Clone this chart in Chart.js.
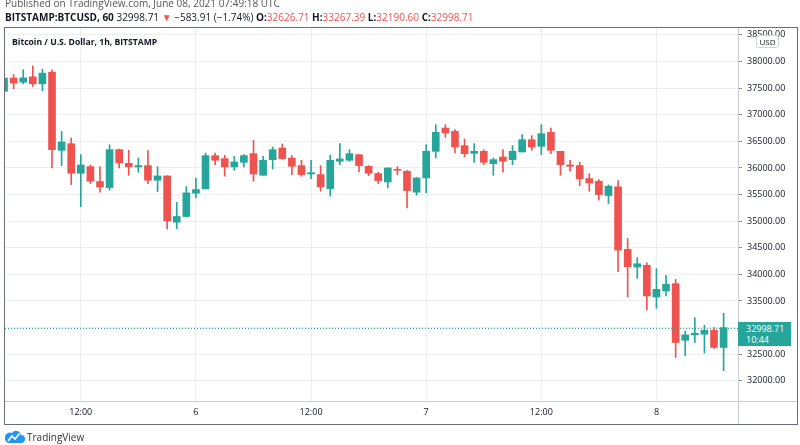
<!DOCTYPE html>
<html>
<head>
<meta charset="utf-8">
<script src="https://cdn.jsdelivr.net/npm/chart.js@4.4.0/dist/chart.umd.min.js"></script>
<style>
    html, body { margin: 0; padding: 0; background: #fff; }
    #wrap { position: relative; width: 800px; height: 445px; overflow: hidden; font-family: 'Open Sans', sans-serif; color: #131722; }
    #chart { position: absolute; left: 0; top: 0; }
    .txt { position: absolute; white-space: nowrap; }
    .dn { color: #ef5350; }
    #published { left: 5px; top: -3px; font-size: 10px; line-height: 12px; color: #555; }
    #symbol { left: 5px; top: 11px; font-size: 10px; line-height: 12px; color: #131722; }
    #symbol b { font-weight: 700; }
    #title { left: 12px; top: 36px; font-size: 8.6px; line-height: 12px; font-weight: 700; }
    #usd { left: 756px; top: 35px; width: 21px; height: 11px; border: 1px solid #d1d4dc; border-radius: 3px; background: #fff;
           font-size: 8px; line-height: 11px; text-align: center; color: #131722; }
    #lastBox { left: 738px; width: 53px; height: 24px; background: #26a69a; color: #fff; font-size: 9px; line-height: 11px;
               padding-left: 8px; box-sizing: border-box; padding-top: 1px; }
    #logo { left: 5px; top: 429px; }
    #brand { left: 27px; top: 430px; font-size: 10px; line-height: 14px; color: #333; }
</style>
</head>
<body>
<div id="wrap">
    <canvas id="chart" width="800" height="445"></canvas>
    <div class="txt" id="published">Published on TradingView.com, June 08, 2021 07:49:18 UTC</div>
    <div class="txt" id="symbol"><b>BITSTAMP:BTCUSD, 60</b> 32998.71 <span class="dn">▼</span> −583.91 (−1.74%) <b>O:</b><span class="dn">32626.71</span> <b>H:</b><span class="dn">33267.39</span> <b>L:</b><span class="dn">32190.60</span> <b>C:</b><span class="dn">32998.71</span></div>
    <div class="txt" id="title">Bitcoin / U.S. Dollar, 1h, BITSTAMP</div>
    <div class="txt" id="usd">USD</div>
    <div class="txt" id="lastBox">32998.71<br>10:44</div>
    <svg class="txt" id="logo" width="20" height="15" viewBox="0 0 20 15">
        <path d="M3 14 H16 A4 4 0 0 0 16 6 A5 5 0 0 0 7 4 A4 4 0 0 0 3 14 Z" fill="#2196f3"/>
        <polyline points="3,12 7,7 10,10 15,4" fill="none" stroke="#fff" stroke-width="1.6"/>
    </svg>
    <div class="txt" id="brand">TradingView</div>
</div>

<script>
    // --- 1. Candle data (1h candles, BITSTAMP BTC/USD), index = hour from first candle ---
    const opens = [
        37440, 37690, 37612, 37712, 37581, 37800, 36331, 36456, 35900, 36025,
        35744, 35631, 36344, 36087, 36019, 36044, 35769, 35850, 34981, 35087,
        35525, 35606, 36231, 36175, 36019, 36106, 36269, 35862, 36156, 36375,
        36187, 36044, 35887, 35875, 35612, 36125, 36144, 36250, 36031, 35894,
        35737, 35969, 35937, 35544, 35812, 36312, 36750, 36687, 36419, 36275,
        36312, 36081, 36206, 36156, 36300, 36531, 36406, 36669, 36312, 36056,
        36044, 35800, 35750, 35481, 35644, 34469, 34137, 34169, 33575, 33687,
        33825, 32762, 32862, 32875, 32950, 32626.71
    ];
    const highs = [
        37700, 37756, 37844, 37919, 37856, 37844, 36687, 36562, 36250, 36056,
        36019, 36437, 36356, 36331, 36187, 36325, 36025, 35850, 35356, 35650,
        35806, 36281, 36281, 36237, 36219, 36250, 36519, 36219, 36394, 36450,
        36231, 36144, 36144, 36044, 36237, 36456, 36344, 36250, 36044, 35919,
        36000, 36025, 35950, 35825, 36437, 36812, 36812, 36719, 36544, 36456,
        36344, 36187, 36344, 36419, 36625, 36606, 36812, 36750, 36312, 36144,
        36106, 35894, 35781, 35681, 35762, 34675, 34312, 34219, 34106, 33981,
        33906, 32937, 33187, 33044, 33000, 33267.39
    ];
    const lows = [
        37430, 37487, 37581, 37531, 37450, 36000, 36044, 35687, 35269, 35706,
        35544, 35581, 36000, 35862, 35919, 35706, 35556, 34856, 34856, 35087,
        35437, 35606, 36062, 35844, 35956, 36019, 35750, 35862, 35981, 36160,
        35875, 35844, 35800, 35562, 35469, 36062, 36125, 35925, 35856, 35706,
        35625, 35875, 35250, 35487, 35531, 36187, 36575, 36281, 36206, 36106,
        36062, 35862, 35919, 36062, 36300, 36331, 36250, 36269, 35862, 35937,
        35669, 35562, 35394, 35331, 34050, 33575, 33925, 33331, 33362, 33594,
        32437, 32469, 32719, 32519, 32606, 32190.60
    ];
    const closes = [
        37690, 37594, 37694, 37581, 37781, 36344, 36487, 35900, 36056, 35750,
        35644, 36344, 36094, 36019, 36044, 35769, 35850, 35006, 35087, 35531,
        35594, 36231, 36144, 36019, 36112, 36231, 35887, 36144, 36344, 36175,
        36031, 35875, 35912, 35644, 36144, 36169, 36269, 36044, 35900, 35762,
        36000, 35956, 35575, 35812, 36312, 36669, 36656, 36394, 36269, 36312,
        36106, 36156, 36125, 36312, 36531, 36394, 36644, 36331, 36062, 36031,
        35794, 35719, 35500, 35656, 34456, 34144, 34200, 33594, 33719, 33812,
        32719, 32862, 32894, 32950, 32626.71, 32998.71
    ];

    // Time axis ticks (hour index -> label)
    const tickHours = [8, 20, 32, 44, 56, 68];
    const tickLabels = ['12:00', '6', '12:00', '7', '12:00', '8'];
    // Price axis ticks
    const priceTicks = [32000, 32500, 33000, 33500, 34000, 34500, 35000, 35500, 36000, 36500, 37000, 37500, 38000, 38500];

    const UP = '#26a69a';
    const DOWN = '#ef5350';
    const lastClose = closes[closes.length - 1];

    // --- 2. Build datasets ---
    const bodyData = opens.map((o, i) => ({ x: i, y: [o, closes[i]] }));
    const wickData = opens.map((o, i) => ({ x: i, y: [lows[i], highs[i]] }));
    const candleColors = opens.map((o, i) => closes[i] >= o ? UP : DOWN);

    // frame, separators and last price line
    const framePlugin = {
        id: 'frame',
        afterDraw(chart) {
            const ctx = chart.ctx;
            const a = chart.chartArea;
            const y = chart.scales.y.getPixelForValue(lastClose);
            ctx.save();
            // last price dotted line
            ctx.strokeStyle = UP;
            ctx.lineWidth = 1;
            ctx.setLineDash([1, 2]);
            ctx.beginPath();
            ctx.moveTo(a.left, Math.round(y) + 0.5);
            ctx.lineTo(a.right, Math.round(y) + 0.5);
            ctx.stroke();
            ctx.setLineDash([]);
            // axis separators
            ctx.strokeStyle = '#c8cad0';
            ctx.beginPath();
            ctx.moveTo(a.left, a.bottom + 0.5);
            ctx.lineTo(797, a.bottom + 0.5);
            ctx.moveTo(a.right + 0.5, a.top);
            ctx.lineTo(a.right + 0.5, 424);
            ctx.stroke();
            // outer frame
            ctx.strokeStyle = '#6a6d78';
            ctx.strokeRect(4.5, 27.5, 793, 397);
            ctx.restore();

            const box = document.getElementById('lastBox');
            box.style.top = (y - 6) + 'px';
        }
    };

    new Chart(document.getElementById('chart'), {
        type: 'bar',
        data: {
            datasets: [
                { data: bodyData, backgroundColor: candleColors, barThickness: 7, minBarLength: 1, grouped: false, order: 0 },
                { data: wickData, backgroundColor: candleColors, barThickness: 1, grouped: false, order: 1 }
            ]
        },
        options: {
            responsive: false,
            animation: false,
            layout: { padding: { left: 5, top: 28, right: 3, bottom: 21 } },
            plugins: { legend: { display: false }, tooltip: { enabled: false } },
            scales: {
                x: {
                    type: 'linear',
                    min: 0.1,
                    max: 76.5,
                    offset: false,
                    grid: { color: '#eceef2', offset: false, drawTicks: false },
                    border: { display: false },
                    afterBuildTicks: (scale) => { scale.ticks = tickHours.map(v => ({ value: v })); },
                    afterFit: (scale) => { scale.height = 23; },
                    ticks: {
                        autoSkip: false,
                        maxRotation: 0,
                        padding: 6,
                        color: '#131722',
                        font: { family: 'Open Sans', size: 9 },
                        callback: (v) => tickLabels[tickHours.indexOf(v)]
                    }
                },
                y: {
                    position: 'right',
                    min: 31620,
                    max: 38630,
                    grid: { color: '#eceef2', tickColor: '#8a8d96', tickLength: 4 },
                    border: { display: false },
                    afterBuildTicks: (scale) => { scale.ticks = priceTicks.map(v => ({ value: v })); },
                    afterFit: (scale) => { scale.width = 59; },
                    ticks: {
                        autoSkip: false,
                        padding: 5,
                        color: '#131722',
                        font: { family: 'Open Sans', size: 9 },
                        callback: (v) => v.toFixed(2)
                    }
                }
            }
        },
        plugins: [framePlugin]
    });
</script>
</body>
</html>
